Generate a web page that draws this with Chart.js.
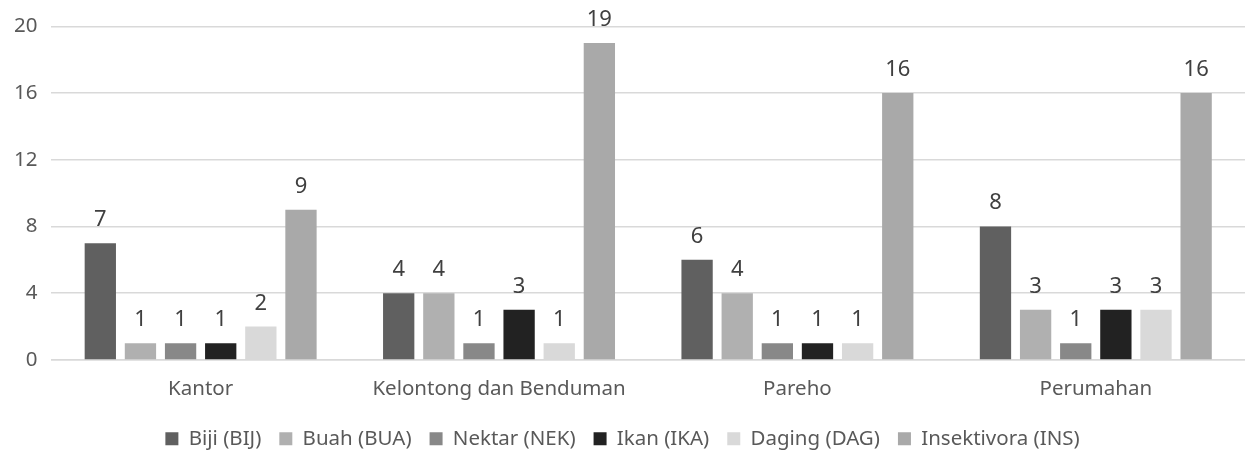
<!DOCTYPE html>
<html>
<head>
<meta charset="utf-8">
<script src="https://cdn.jsdelivr.net/npm/chart.js@4/dist/chart.umd.min.js"></script>
<style>
  html, body { margin: 0; padding: 0; background: #fff; }
  #wrap { width: 1245px; height: 459px; }
</style>
</head>
<body>
<div id="wrap"><canvas id="barChart" width="1245" height="459"></canvas></div>
<script>
var categories = ['Kantor', 'Kelontong dan Benduman', 'Pareho', 'Perumahan'];
var seriesNames = ['Biji (BIJ)', 'Buah (BUA)', 'Nektar (NEK)', 'Ikan (IKA)', 'Daging (DAG)', 'Insektivora (INS)'];
var biji = [7, 4, 6, 8];
var buah = [1, 4, 4, 3];
var nektar = [1, 1, 1, 1];
var ikan = [1, 3, 1, 3];
var daging = [2, 1, 1, 3];
var insektivora = [9, 19, 16, 16];
var colors = ['#606060', '#b0b0b0', '#888888', '#222222', '#d9d9d9', '#a9a9a9'];
var yTicks = [0, 4, 8, 12, 16, 20];

var allSeries = [biji, buah, nektar, ikan, daging, insektivora];
var font = "'Noto Sans', sans-serif";

// draw value above each bar
var valueLabels = {
    id: 'valueLabels',
    afterDatasetsDraw: function(chart) {
        var c = chart.ctx;
        c.save();
        c.fillStyle = '#404040';
        c.font = '22px ' + font;
        c.textAlign = 'center';
        c.textBaseline = 'alphabetic';
        chart.data.datasets.forEach(function(ds, i) {
            chart.getDatasetMeta(i).data.forEach(function(bar, j) {
                c.fillText(ds.data[j], bar.x, bar.y - 17);
            });
        });
        c.restore();
    }
};

var ctx = document.getElementById('barChart').getContext('2d');
var myChart = new Chart(ctx, {
    type: 'bar',
    data: {
        labels: categories,
        datasets: allSeries.map(function(vals, i) {
            return {
                label: seriesNames[i],
                data: vals,
                backgroundColor: colors[i],
                borderWidth: 0,
                categoryPercentage: 0.807,
                barPercentage: 0.78
            };
        })
    },
    options: {
        responsive: false,
        animation: false,
        layout: { padding: { top: 21, right: 0, left: 0, bottom: 0 } },
        scales: {
            x: {
                grid: { display: false },
                border: { color: '#d9d9d9', width: 1.5 },
                ticks: { color: '#595959', font: { family: font, size: 20.5 }, padding: 9 }
            },
            y: {
                min: 0,
                max: 20,
                afterBuildTicks: function(axis) {
                    axis.ticks = yTicks.map(function(v) { return { value: v }; });
                },
                grid: { color: '#d9d9d9', lineWidth: 1.5, drawTicks: false },
                border: { display: false },
                ticks: { color: '#595959', font: { family: font, size: 20.5 }, padding: 14 }
            }
        },
        plugins: {
            legend: {
                position: 'bottom',
                labels: {
                    color: '#595959',
                    font: { family: font, size: 20.5 },
                    boxWidth: 13,
                    boxHeight: 13,
                    padding: 18
                }
            },
            tooltip: { enabled: false }
        }
    },
    plugins: [valueLabels]
});
</script>
</body>
</html>
